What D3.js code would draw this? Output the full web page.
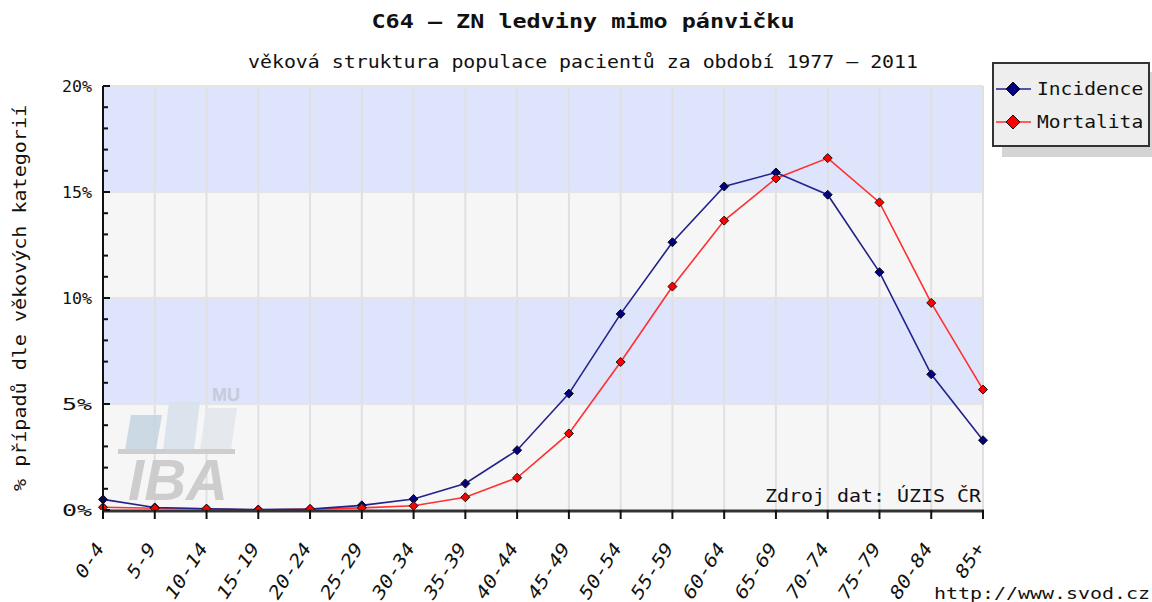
<!DOCTYPE html>
<html>
<head>
<meta charset="utf-8">
<script src="https://cdn.jsdelivr.net/npm/d3@7"></script>
<style>
	body { margin: 0; background: #fff; }
	text { font-family: "DejaVu Sans Mono", monospace; fill: #111; }
</style>
</head>
<body>
<svg id="chart" width="1152" height="602"></svg>
<script>
var categories = ['0-4','5-9','10-14','15-19','20-24','25-29','30-34','35-39','40-44','45-49','50-54','55-59','60-64','65-69','70-74','75-79','80-84','85+'];
var incidence = [0.50, 0.12, 0.06, 0.02, 0.04, 0.22, 0.52, 1.25, 2.82, 5.49, 9.25, 12.63, 15.26, 15.92, 14.87, 11.22, 6.40, 3.29];
var mortality = [0.13, 0.08, 0.06, 0.00, 0.05, 0.10, 0.20, 0.60, 1.52, 3.61, 6.98, 10.54, 13.65, 15.64, 16.60, 14.51, 9.77, 5.68];
var yTicks = [0, 5, 10, 15, 20];
var seriesNames = ['Incidence', 'Mortalita'];

var svg = d3.select('#chart');

var plotLeft = 103, plotRight = 983, plotTop = 86, plotBottom = 510;

var x = d3.scalePoint().domain(categories).range([plotLeft, plotRight]);
var y = d3.scaleLinear().domain([0, 20]).range([plotBottom, plotTop]);

function diamondPath(r) {
	return `M0,${-r} L${r},0 L0,${r} L${-r},0 Z`;
}

// background bands
var bands = d3.range(0, 20, 5);
svg.selectAll('.band')
	.data(bands)
	.enter()
	.append('rect')
		.attr('x', plotLeft)
		.attr('y', d => y(d + 5))
		.attr('width', plotRight - plotLeft)
		.attr('height', d => y(d) - y(d + 5))
		.attr('fill', (d, i) => i % 2 ? '#dde4fc' : '#f6f6f6');

// grid
svg.selectAll('.vgrid')
	.data(categories)
	.enter()
	.append('line')
		.attr('x1', d => x(d)).attr('x2', d => x(d))
		.attr('y1', plotTop).attr('y2', plotBottom)
		.attr('stroke', '#e0e0e0').attr('stroke-width', 2);

svg.selectAll('.hgrid')
	.data(yTicks.slice(1))
	.enter()
	.append('line')
		.attr('x1', plotLeft).attr('x2', plotRight)
		.attr('y1', d => y(d)).attr('y2', d => y(d))
		.attr('stroke', '#e4e4e4').attr('stroke-width', 2);

// watermark
var wm = svg.append('g').attr('opacity', 0.9);
[[125, 415, 37, '#c6d6e2'], [163, 402, 37, '#d9e2ec'], [200, 408, 37, '#e4e8ee']].forEach(p => {
	wm.append('path')
		.attr('d', `M${p[0] + 6},${p[1]} L${p[0] + p[2]},${p[1]} L${p[0] + p[2] - 6},450 L${p[0]},450 Z`)
		.attr('fill', p[3]);
});
wm.append('rect').attr('x', 118).attr('y', 449).attr('width', 117).attr('height', 5).attr('fill', '#cacaca');
wm.append('text')
	.attr('x', 128).attr('y', 500)
	.style('font-family', 'Liberation Sans, Arial, sans-serif')
	.style('font-weight', 'bold').style('font-style', 'italic')
	.style('font-size', '58px').style('fill', '#c9c9c9')
	.attr('textLength', 100).attr('lengthAdjust', 'spacingAndGlyphs')
	.text('IBA');
wm.append('text')
	.attr('x', 212).attr('y', 401)
	.style('font-family', 'Liberation Sans, Arial, sans-serif')
	.style('font-weight', 'bold').style('font-size', '18px').style('fill', '#c3c9d8')
	.text('MU');

// source label
svg.append('text')
	.attr('x', 981).attr('y', 502)
	.attr('text-anchor', 'end')
	.style('font-size', '17px')
	.attr('textLength', 216).attr('lengthAdjust', 'spacingAndGlyphs')
	.text('Zdroj dat: ÚZIS ČR');

// lines and markers, clipped to plot area
svg.append('clipPath').attr('id', 'plotclip')
	.append('rect').attr('x', plotLeft - 10).attr('y', plotTop - 10).attr('width', plotRight - plotLeft + 20).attr('height', plotBottom - plotTop + 10);

var plot = svg.append('g').attr('clip-path', 'url(#plotclip)');

var series = [
	{ name: seriesNames[0], values: incidence, line: '#22228a', fill: '#000080' },
	{ name: seriesNames[1], values: mortality, line: '#ff3030', fill: '#ff0000' }
];

var line = d3.line()
	.x((d, i) => x(categories[i]))
	.y(d => y(d));

series.slice().reverse().forEach(s => {
	plot.append('path')
		.datum(s.values)
		.attr('d', line)
		.attr('fill', 'none')
		.attr('stroke', s.line)
		.attr('stroke-width', 1.6);
});
series.forEach(s => {
	plot.selectAll(null)
		.data(s.values)
		.enter()
		.append('path')
			.attr('d', diamondPath(4.5))
			.attr('transform', (d, i) => `translate(${x(categories[i])},${y(d)})`)
			.attr('fill', s.fill)
			.attr('stroke', '#111')
			.attr('stroke-width', 1);
});

// axes
svg.append('line')
	.attr('x1', plotLeft).attr('x2', plotLeft).attr('y1', plotTop).attr('y2', plotBottom + 8)
	.attr('stroke', '#111').attr('stroke-width', 2);
svg.append('line')
	.attr('x1', plotLeft - 1).attr('x2', plotRight + 1).attr('y1', plotBottom + 1).attr('y2', plotBottom + 1)
	.attr('stroke', '#333').attr('stroke-width', 3);

svg.selectAll('.ytick')
	.data(d3.range(0, 21))
	.enter()
	.append('line')
		.attr('x1', plotLeft).attr('x2', d => plotLeft + (d % 5 === 0 ? 7 : 5))
		.attr('y1', d => y(d)).attr('y2', d => y(d))
		.attr('stroke', '#111').attr('stroke-width', 2);

svg.selectAll('.xtick')
	.data(categories)
	.enter()
	.append('line')
		.attr('x1', d => x(d)).attr('x2', d => x(d))
		.attr('y1', plotBottom).attr('y2', plotBottom + 9)
		.attr('stroke', '#111').attr('stroke-width', 2);

svg.selectAll('.ylabel')
	.data(yTicks)
	.enter()
	.append('text')
		.attr('x', 92).attr('y', d => y(d) + 6)
		.attr('text-anchor', 'end')
		.style('font-size', '15px')
		.attr('textLength', 30).attr('lengthAdjust', 'spacingAndGlyphs')
		.text(d => d + '%');

svg.selectAll('.xlabel')
	.data(categories)
	.enter()
	.append('text')
		.attr('transform', d => `translate(${x(d) + 2},${plotBottom + 38}) rotate(-57)`)
		.attr('text-anchor', 'end')
		.style('font-size', '18px')
		.style('font-style', 'italic')
		.attr('textLength', d => d.length * 12.5).attr('lengthAdjust', 'spacingAndGlyphs')
		.text(d => d);

// titles
svg.append('text')
	.attr('x', 583).attr('y', 28)
	.attr('text-anchor', 'middle')
	.style('font-size', '20px').style('font-weight', 'bold')
	.attr('textLength', 423).attr('lengthAdjust', 'spacingAndGlyphs')
	.text('C64 – ZN ledviny mimo pánvičku');

svg.append('text')
	.attr('x', 583).attr('y', 68)
	.attr('text-anchor', 'middle')
	.style('font-size', '17px')
	.attr('textLength', 670).attr('lengthAdjust', 'spacingAndGlyphs')
	.text('věková struktura populace pacientů za období 1977 – 2011');

svg.append('text')
	.attr('transform', 'translate(26,298) rotate(-90)')
	.attr('text-anchor', 'middle')
	.style('font-size', '17px')
	.attr('textLength', 386).attr('lengthAdjust', 'spacingAndGlyphs')
	.text('% případů dle věkových kategorií');

svg.append('text')
	.attr('x', 1150).attr('y', 599)
	.attr('text-anchor', 'end')
	.style('font-size', '16px')
	.attr('textLength', 216).attr('lengthAdjust', 'spacingAndGlyphs')
	.text('http://www.svod.cz');

// legend
var legend = svg.append('g');
legend.append('rect')
	.attr('x', 1002).attr('y', 72).attr('width', 156).attr('height', 85)
	.attr('fill', '#d4d4d4');
legend.append('rect')
	.attr('x', 993).attr('y', 63).attr('width', 156).attr('height', 83)
	.attr('fill', '#eeeeee').attr('stroke', '#333').attr('stroke-width', 2);

series.forEach((s, i) => {
	var ly = 89 + i * 33;
	legend.append('line')
		.attr('x1', 996).attr('x2', 1031).attr('y1', ly).attr('y2', ly)
		.attr('stroke', s.line).attr('stroke-width', 1.6);
	legend.append('path')
		.attr('d', diamondPath(7))
		.attr('transform', `translate(1013,${ly})`)
		.attr('fill', s.fill).attr('stroke', '#111');
	legend.append('text')
		.attr('x', 1037).attr('y', ly + 6)
		.style('font-size', '17px')
		.attr('textLength', s.name.length * 11.8).attr('lengthAdjust', 'spacingAndGlyphs')
		.text(s.name);
});
</script>
</body>
</html>
